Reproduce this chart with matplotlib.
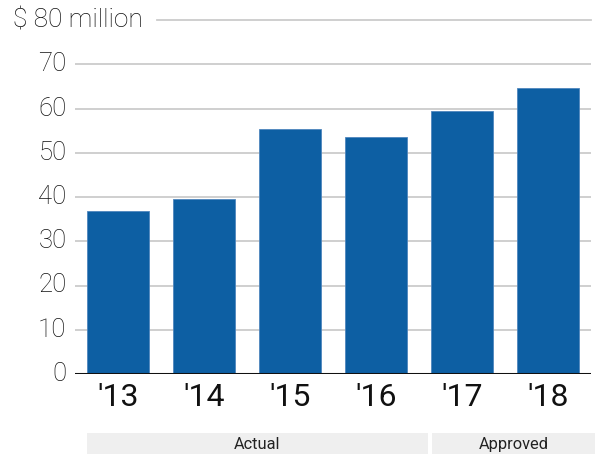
import matplotlib
matplotlib.use("Agg")
import matplotlib.pyplot as plt
import matplotlib.transforms as mtransforms
from matplotlib.patches import Rectangle

years = ["'13", "'14", "'15", "'16", "'17", "'18"]
values = [36.8, 39.5, 55.3, 53.5, 59.4, 64.6]
yticks = [0, 10, 20, 30, 40, 50, 60, 70]
top_label = "$ 80 million"
groups = [("Actual", 0, 3), ("Approved", 4, 5)]

W, H = 595, 454
fig = plt.figure(figsize=(W / 100, H / 100), dpi=100)
ax = fig.add_axes([75 / W, (H - 374) / H, (591 - 75) / W, (374 - 20) / H])

bar_color = "#0d5fa3"
x = list(range(len(years)))
ax.bar(x, values, width=0.72, color=bar_color, edgecolor="#4f86bd", linewidth=0.6, zorder=3)
ax.set_xlim(-0.5, 5.5)
ax.set_ylim(0, 80)

for v in yticks[1:]:
    ax.axhline(v, color="#cccccc", lw=1.3, zorder=1)
ax.axhline(80, xmin=(157 - 75) / (591 - 75), color="#cccccc", lw=1.3, zorder=1, clip_on=False)
ax.axhline(0, color="#111111", lw=2.2, zorder=4)

for s in ax.spines.values():
    s.set_visible(False)
ax.set_xticks([])
ax.set_yticks([])

for v in yticks:
    ax.text(-0.6, v, str(v), ha="right", va="center", fontsize=18.5,
            family="Roboto", fontweight="light", color="#111111")
fig.text(13 / W, 1 - 20 / H, top_label, ha="left", va="center", fontsize=19,
         family="Roboto", fontweight="light", color="#111111")

for xi, lab in zip(x, years):
    ax.text(xi, -2.0, lab, ha="center", va="top", fontsize=23,
            family="Roboto", color="#111111")

trans = mtransforms.blended_transform_factory(ax.transData, fig.transFigure)
band_y0 = 1 - 454 / H
band_h = (454 - 433) / H
edges = {"Actual": (-0.36, 3.605), "Approved": (3.651, 5.55)}
for name, i0, i1 in groups:
    a, b = edges[name]
    fig.patches.append(Rectangle((a, band_y0), b - a, band_h, transform=trans,
                                 facecolor="#efefef", edgecolor="none"))
    fig.text((a + b) / 2, band_y0 + band_h / 2 - 0.002, name, transform=trans,
             ha="center", va="center", fontsize=11.8, family="Roboto",
             color="#222222")

fig.savefig("out.png", dpi=100)
